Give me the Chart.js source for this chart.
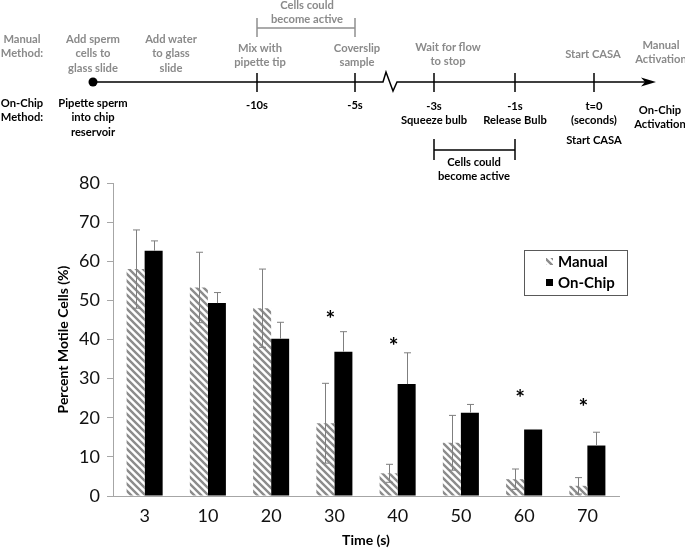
<!DOCTYPE html>
<html>
<head>
<meta charset="utf-8">
<script src="https://cdn.jsdelivr.net/npm/chart.js@4.4.1/dist/chart.umd.min.js"></script>
<style>
  body { margin: 0; background: #fff; }
  #wrap { position: relative; width: 685px; height: 553px; overflow: hidden; }
  #chart { position: absolute; left: 0; top: 0; }
  #timeline { position: absolute; left: 0; top: 0; width: 685px; height: 190px; pointer-events: none; }
  .lbl {
    position: absolute; transform: translateX(-50%); white-space: nowrap; text-align: center;
    font-family: Lato, "Open Sans", sans-serif; font-weight: bold; font-size: 11.2px; line-height: 14.5px;
  }
  .gray { color: #8a8a8a; }
  .black { color: #000; }
</style>
</head>
<body>
<div id="wrap">
  <canvas id="chart" width="685" height="553"></canvas>
  <svg id="timeline" width="685" height="190">
    <g stroke="#000" stroke-width="1.5" fill="none">
      <polyline points="93,82 383,82 386,72 393,91 397,82 648,82"/>
      <line x1="257" y1="73" x2="257" y2="92"/>
      <line x1="355" y1="73" x2="355" y2="92"/>
      <line x1="434" y1="73" x2="434" y2="92"/>
      <line x1="515" y1="73" x2="515" y2="92"/>
      <line x1="594" y1="73" x2="594" y2="92"/>
      <line x1="434" y1="139" x2="434" y2="160"/>
      <line x1="515" y1="139" x2="515" y2="160"/>
      <line x1="434" y1="150" x2="515" y2="150"/>
    </g>
    <g stroke="#8f8f8f" stroke-width="1.5" fill="none">
      <line x1="257" y1="18" x2="257" y2="37"/>
      <line x1="355" y1="18" x2="355" y2="37"/>
      <line x1="257" y1="28" x2="355" y2="28"/>
    </g>
    <circle cx="93" cy="82" r="4.5" fill="#000"/>
    <polygon points="641,77.5 656,82 641,86.5 645,82" fill="#000"/>
  </svg>
</div>
<script>
// values
const categories = ["3", "10", "20", "30", "40", "50", "60", "70"];
const manualMean = [58.0, 53.3, 48.0, 18.6, 5.8, 13.6, 4.3, 2.6];
const manualErr = [10.0, 9.0, 10.0, 10.2, 2.3, 7.0, 2.6, 2.1];
const onChipMean = [62.7, 49.3, 40.2, 36.9, 28.6, 21.3, 17.0, 12.9];
const onChipErr = [2.5, 2.7, 4.2, 5.1, 8.0, 2.1, 0, 3.4];
// height (in % units) where the significance asterisk sits, null = none
const starLevel = [null, null, null, 46.3, 39.4, null, 26.3, 24.0];
const yTickStep = 10;

// timeline labels: [centre x, first line centre y, lines, colour]
const timelineLabels = [
  [22, 39, ["Manual", "Method:"], "gray"],
  [93, 39, ["Add sperm", "cells to", "glass slide"], "gray"],
  [171, 39, ["Add water", "to glass", "slide"], "gray"],
  [307, 5, ["Cells could", "become active"], "gray"],
  [260, 48, ["Mix with", "pipette tip"], "gray"],
  [357, 48, ["Coverslip", "sample"], "gray"],
  [448, 47, ["Wait for flow", "to stop"], "gray"],
  [593, 54, ["Start CASA"], "gray"],
  [661, 45, ["Manual", "Activation"], "gray"],
  [22, 103, ["On-Chip", "Method:"], "black"],
  [93, 103, ["Pipette sperm", "into chip", "reservoir"], "black"],
  [257, 105, ["-10s"], "black"],
  [355, 105, ["-5s"], "black"],
  [434, 106, ["-3s", "Squeeze bulb"], "black"],
  [515, 106, ["-1s", "Release Bulb"], "black"],
  [594, 106, ["t=0", "(seconds)"], "black"],
  [594, 140, ["Start CASA"], "black"],
  [660, 110, ["On-Chip", "Activation"], "black"],
  [474, 162, ["Cells could", "become active"], "black"],
];

const wrap = document.getElementById("wrap");
timelineLabels.forEach(([x, y, lines, cls]) => {
  const d = document.createElement("div");
  d.className = "lbl " + cls;
  d.style.left = x + "px";
  d.style.top = (y - 7.25) + "px";
  d.innerHTML = lines.join("<br>");
  wrap.appendChild(d);
});

// hatched fill for the manual series
const makeHatch = () => {
  const c = document.createElement("canvas");
  c.width = 7;
  c.height = 7;
  const g = c.getContext("2d");
  g.fillStyle = "#fff";
  g.fillRect(0, 0, 7, 7);
  g.strokeStyle = "#8c8c8c";
  g.lineWidth = 2.4;
  g.beginPath();
  g.moveTo(-1, -1); g.lineTo(8, 8);
  g.moveTo(-1, 6); g.lineTo(1, 8);
  g.moveTo(6, -1); g.lineTo(8, 1);
  g.stroke();
  return g.createPattern(c, "repeat");
};
const hatch = makeHatch();

const errorBars = {
  id: "errorBars",
  afterDatasetsDraw(chart) {
    const ctx = chart.ctx;
    const y = chart.scales.y;
    const sets = [
      { meta: chart.getDatasetMeta(0), mean: manualMean, err: manualErr, both: true },
      { meta: chart.getDatasetMeta(1), mean: onChipMean, err: onChipErr, both: false },
    ];
    ctx.save();
    ctx.strokeStyle = "#7f7f7f";
    ctx.lineWidth = 1;
    sets.forEach((s) => {
      s.meta.data.forEach((bar, i) => {
        const x = Math.round(bar.x) + 0.5;
        const top = y.getPixelForValue(s.mean[i] + s.err[i]);
        const bot = s.both ? y.getPixelForValue(s.mean[i] - s.err[i]) : bar.y;
        ctx.beginPath();
        ctx.moveTo(x, top); ctx.lineTo(x, bot);
        ctx.moveTo(x - 3.5, top); ctx.lineTo(x + 3.5, top);
        if (s.both) { ctx.moveTo(x - 3.5, bot); ctx.lineTo(x + 3.5, bot); }
        ctx.stroke();
      });
    });
    // significance marks
    ctx.fillStyle = "#000";
    ctx.font = "bold 23px Lato, sans-serif";
    ctx.textAlign = "center";
    ctx.textBaseline = "middle";
    starLevel.forEach((v, i) => {
      if (v == null) return;
      ctx.fillText("*", chart.scales.x.getPixelForValue(i) - 4, y.getPixelForValue(v) + 5);
    });
    ctx.restore();
  },
};

const boxLegend = {
  id: "boxLegend",
  afterDraw(chart) {
    const ctx = chart.ctx;
    ctx.save();
    ctx.strokeStyle = "#595959";
    ctx.lineWidth = 1;
    ctx.strokeRect(524.5, 250.5, 103, 45);
    ctx.fillStyle = hatch;
    ctx.fillRect(546, 258, 7, 7);
    ctx.fillStyle = "#000";
    ctx.fillRect(546, 279, 7, 7);
    ctx.font = "bold 15px Lato, sans-serif";
    ctx.textBaseline = "middle";
    ctx.fillText("Manual", 558, 262);
    ctx.fillText("On-Chip", 558, 283);
    ctx.restore();
  },
};

new Chart(document.getElementById("chart"), {
  type: "bar",
  data: {
    labels: categories,
    datasets: [
      { label: "Manual", data: manualMean, backgroundColor: hatch, borderWidth: 0 },
      { label: "On-Chip", data: onChipMean, backgroundColor: "#000", borderWidth: 0 },
    ],
  },
  options: {
    responsive: false,
    animation: false,
    events: [],
    layout: { padding: { top: 183, right: 66, bottom: 0, left: 0 } },
    datasets: { bar: { categoryPercentage: 0.57, barPercentage: 1.0 } },
    plugins: { legend: { display: false }, tooltip: { enabled: false } },
    scales: {
      x: {
        grid: { display: false, drawTicks: false },
        border: { display: true, color: "#a6a6a6", width: 1 },
        ticks: { color: "#111", font: { family: "Lato", size: 18 }, padding: 9 },
        title: {
          display: true, text: "Time (s)", color: "#000",
          font: { family: "Lato", size: 14, weight: "bold" },
          padding: { top: 0, bottom: 4.6 },
        },
        afterFit: (s) => { s.height = 57; },
      },
      y: {
        min: 0,
        max: 80,
        ticks: { stepSize: yTickStep, color: "#111", font: { family: "Lato", size: 18 }, padding: 7 },
        grid: { drawOnChartArea: false, drawTicks: true, tickLength: 6, color: "#a6a6a6" },
        border: { display: true, color: "#a6a6a6", width: 1 },
        title: {
          display: true, text: "Percent Motile Cells (%)", color: "#000",
          font: { family: "Lato", size: 14, weight: "bold" },
          padding: { top: 54.6, bottom: 0 },
        },
        afterFit: (s) => { s.width = 113; },
      },
    },
  },
  plugins: [errorBars, boxLegend],
});
</script>
</body>
</html>
